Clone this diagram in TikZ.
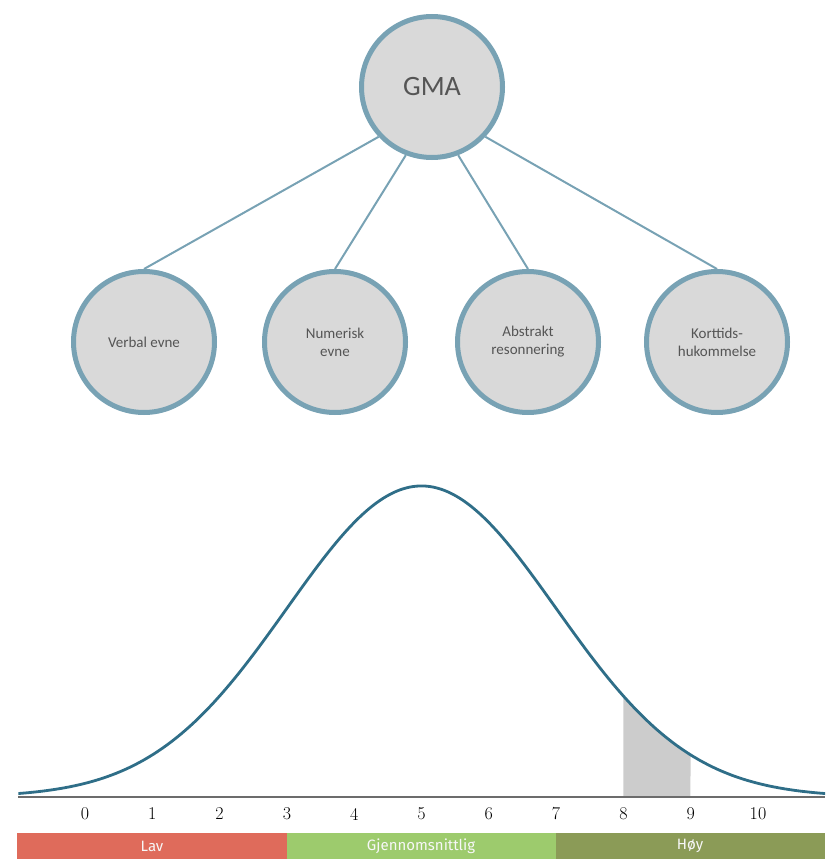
\documentclass[tikz,border=0pt]{standalone}
\usepackage{fontspec}
\setmainfont{Carlito}
\newfontfamily\barfont{Fira Sans}
\newfontfamily\lmfont{Latin Modern Roman}
\definecolor{ring}{HTML}{78A2B4}
\definecolor{disc}{HTML}{D9D9D9}
\definecolor{txt}{HTML}{555555}
\definecolor{curve}{HTML}{2F6E88}
\definecolor{lavc}{HTML}{DF6B5B}
\definecolor{midc}{HTML}{9DCB6D}
\definecolor{hoyc}{HTML}{8B9B57}
\begin{document}
\begin{tikzpicture}[x=1pt,y=-1pt,
  bubble/.style={circle,draw=ring,line width=5pt,fill=disc,minimum size=141pt,inner sep=0pt,
     text=txt,font=\fontsize{15}{18}\selectfont,align=center},
  link/.style={draw=ring,line width=2pt},
  tick/.style={font=\lmfont\fontsize{18}{20}\selectfont},
  barlabel/.style={text=white!94!gray,font=\barfont\fontsize{15}{18}\selectfont}]
\useasboundingbox (0,0) rectangle (825,859);
\coordinate (cg) at (432,87);
\coordinate (cv) at (144,342);
\coordinate (cn) at (335,342);
\coordinate (ca) at (528,342);
\coordinate (ck) at (717,342);
\node[bubble,draw=none,fill=none] (gma) at (cg) {};
\node[bubble,draw=none,fill=none] (v) at (cv) {};
\node[bubble,draw=none,fill=none] (n) at (cn) {};
\node[bubble,draw=none,fill=none] (a) at (ca) {};
\node[bubble,draw=none,fill=none] (k) at (ck) {};
\draw[link] (gma.223) -- (v.north);
\draw[link] (gma.249) -- (n.north);
\draw[link] (gma.291) -- (a.north);
\draw[link] (gma.317) -- (k.north);
\node[bubble,font=\fontsize{28}{32}\selectfont] (gmaText) at (cg) {GMA};
\node[bubble] (vText) at (cv) {Verbal evne};
\node[bubble] (nText) at (cn) {Numerisk\\evne};
\node[bubble] (aText) at (ca) {Abstrakt\\resonnering};
\node[bubble] (kText) at (ck) {Korttids-\\hukommelse};
% shaded region
\fill[gray!40] (623.4,797) -- plot[domain=8:9,samples=40] ({85+67.3*\x},{797-311*exp(-(\x-5)^2/8)}) -- (690.3,797) -- cycle;
% axis
\draw[gray!85!black,line width=2pt] (18,797) -- (825,797);
% curve
\draw[curve,line width=2.8pt] plot[domain=-0.99:11,samples=240,smooth] ({85+67.3*\x},{797-311*exp(-(\x-5)^2/8)});
% tick labels
\foreach \i in {0,...,10} {\node[tick] (t\i) at ({85+67.3*\i},814) {\i};}
% bottom bar
\fill[lavc] (17,833) rectangle (287,859);
\fill[midc] (287,833) rectangle (556,859);
\fill[hoyc] (556,833) rectangle (825,859);
\node[barlabel] (lav) at (152,846) {Lav};
\node[barlabel] (mid) at (421,846) {Gjennomsnittlig};
\node[barlabel] (hoy) at (690,846) {Høy};
\end{tikzpicture}
\end{document}
